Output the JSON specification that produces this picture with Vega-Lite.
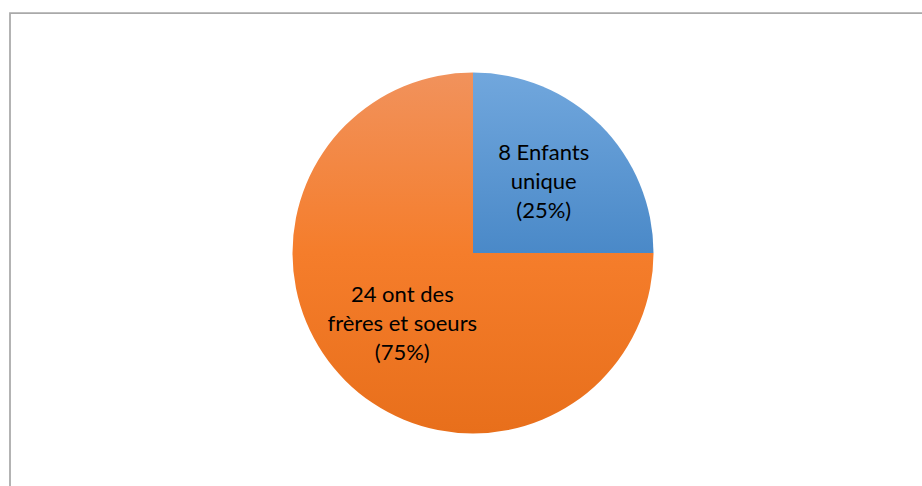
{
  "$schema": "https://vega.github.io/schema/vega-lite/v6.json",
  "width": 926,
  "height": 480,
  "autosize": {"type": "none"},
  "padding": {"left": 10, "top": 13, "right": -14, "bottom": -7},
  "background": "white",
  "view": {"stroke": "#a9a9a9", "strokeWidth": 1.75},
  "config": {"view": {"stroke": "#a9a9a9", "strokeWidth": 1.75}},
  "data": {
    "values": [
      {"category": "Enfants unique", "count": 8, "order": 1, "label": "8 Enfants\nunique\n(25%)"},
      {"category": "Ont des frères et soeurs", "count": 24, "order": 2, "label": "24 ont des\nfrères et soeurs\n(75%)"}
    ]
  },
  "encoding": {
    "theta": {"field": "count", "type": "quantitative", "stack": true},
    "order": {"field": "order", "type": "quantitative", "sort": "ascending"}
  },
  "layer": [
    {
      "mark": {"type": "arc", "outerRadius": 180.5},
      "encoding": {
        "fill": {
          "condition": {
            "test": "datum.order == 1",
            "value": {
              "gradient": "linear", "x1": 0, "y1": 0, "x2": 0, "y2": 1,
              "stops": [{"offset": 0, "color": "#71a7dd"}, {"offset": 1, "color": "#4a89c8"}]
            }
          },
          "value": {
            "gradient": "linear", "x1": 0, "y1": 0, "x2": 0, "y2": 1,
            "stops": [{"offset": 0, "color": "#f1925c"}, {"offset": 0.5, "color": "#f57d2b"}, {"offset": 1, "color": "#e86f1b"}]
          }
        }
      }
    },
    {
      "mark": {"type": "text", "radius": 100, "dy": -29, "font": "Lato", "fontSize": 22, "lineHeight": 29, "lineBreak": "\n", "align": "center", "baseline": "middle", "color": "#000000"},
      "encoding": {"text": {"field": "label", "type": "nominal"}}
    }
  ]
}
